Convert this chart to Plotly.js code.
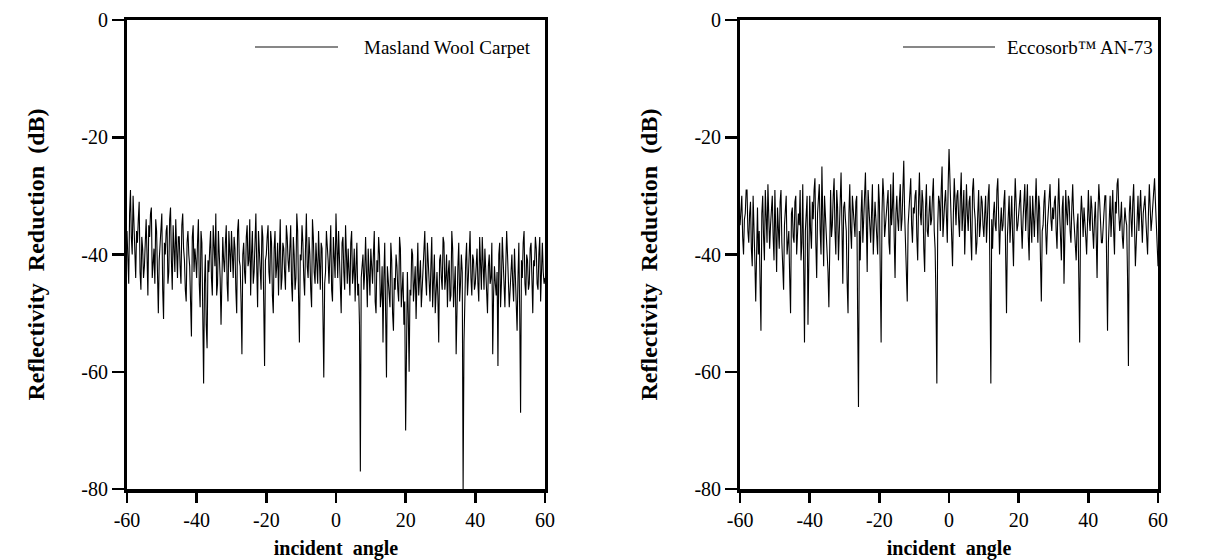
<!DOCTYPE html>
<html>
<head>
<meta charset="utf-8">
<script src="https://cdn.plot.ly/plotly-3.0.1.min.js"></script>
<style>html,body{margin:0;padding:0;background:#fff;}#chart{width:1214px;height:560px;}</style>
</head>
<body>
<div id="chart"></div>
<script>
// angle grid: -60 to 60 in 0.25 degree steps (main samples on 0.5 grid, mid samples in between)
const angleStart = -60, angleStep = 0.25;

// samples at -60, -59.5, ..., 60
const maslandWool = [
  -36,-45,-29,-40,-35,-44,-38,-31,-46,-39,
  -42,-34,-47,-37,-32,-41,-45,-36,-50,-38,
  -33,-51,-40,-35,-43,-32,-46,-38,-34,-44,
  -37,-45,-33,-41,-48,-36,-42,-54,-35,-39,
  -44,-34,-49,-38,-62,-40,-56,-43,-36,-47,
  -39,-33,-45,-40,-52,-37,-43,-35,-48,-41,
  -36,-44,-39,-50,-34,-42,-57,-38,-45,-35,
  -41,-47,-36,-43,-33,-49,-39,-46,-37,-59,
  -40,-35,-45,-38,-50,-36,-42,-47,-34,-44,
  -39,-46,-37,-43,-35,-48,-40,-44,-36,-55,
  -41,-38,-47,-33,-44,-40,-49,-37,-45,-42,
  -36,-46,-39,-61,-43,-38,-45,-35,-48,-41,
  -33,-44,-40,-50,-37,-46,-42,-39,-47,-36,
  -43,-48,-38,-45,-77,-41,-46,-37,-49,-42,
  -39,-45,-36,-50,-43,-40,-47,-55,-38,-61,
  -44,-49,-41,-53,-46,-42,-48,-39,-45,-52,
  -70,-43,-60,-47,-40,-45,-51,-38,-44,-49,
  -42,-36,-47,-41,-48,-37,-45,-50,-43,-55,
  -40,-46,-38,-44,-49,-41,-47,-39,-45,-57,
  -42,-48,-40,-80,-46,-38,-44,-36,-47,-41,
  -45,-39,-48,-42,-37,-46,-43,-50,-40,-44,
  -57,-42,-47,-59,-38,-45,-41,-49,-36,-44,
  -46,-40,-48,-43,-53,-38,-67,-44,-36,-47,
  -41,-45,-38,-50,-42,-39,-46,-37,-44,-43,
  -44
];
// samples at -59.75, -59.25, ..., 59.75
const maslandWoolMid = [
  -41,-33,-37,-30,-42,-36,-34,-43,-37,-44,
  -38,-40,-35,-33,-44,-39,-34,-47,-41,-35,
  -46,-38,-36,-45,-34,-41,-35,-43,-40,-37,
  -42,-35,-39,-46,-38,-40,-48,-37,-43,-41,
  -38,-45,-36,-50,-45,-52,-41,-39,-44,-35,
  -42,-47,-36,-44,-39,-41,-38,-45,-36,-43,
  -40,-37,-46,-36,-41,-48,-40,-43,-37,-42,
  -34,-40,-45,-38,-42,-36,-44,-35,-48,-41,
  -37,-43,-36,-47,-39,-44,-38,-40,-46,-38,
  -43,-35,-41,-39,-45,-37,-46,-33,-47,-40,
  -35,-44,-39,-42,-37,-46,-34,-43,-38,-45,
  -42,-38,-50,-45,-36,-41,-39,-46,-37,-44,
  -40,-36,-47,-38,-43,-35,-45,-42,-38,-45,
  -39,-42,-47,-52,-44,-40,-43,-46,-39,-47,
  -43,-40,-48,-41,-37,-49,-42,-44,-50,-42,
  -47,-38,-50,-44,-40,-46,-37,-49,-43,-48,
  -55,-50,-46,-39,-48,-42,-44,-47,-41,-45,
  -39,-44,-38,-46,-42,-49,-40,-44,-47,-41,
  -44,-37,-46,-40,-43,-48,-36,-49,-42,-45,
  -38,-45,-43,-55,-41,-47,-39,-44,-40,-46,
  -42,-45,-37,-46,-41,-39,-48,-42,-45,-38,
  -47,-45,-43,-40,-49,-37,-46,-42,-40,-49,
  -42,-45,-39,-48,-44,-50,-41,-38,-45,-40,
  -46,-39,-44,-41,-37,-45,-40,-48,-38,-45
];

const eccosorb = [
  -35,-30,-40,-33,-29,-38,-31,-42,-34,-48,
  -32,-36,-53,-30,-41,-34,-28,-39,-33,-37,
  -29,-43,-35,-31,-38,-46,-33,-40,-36,-50,
  -32,-38,-30,-35,-35,-41,-28,-55,-33,-52,
  -30,-39,-34,-27,-44,-31,-36,-25,-42,-33,
  -38,-49,-29,-35,-27,-40,-32,-37,-26,-45,
  -31,-36,-50,-28,-39,-33,-37,-30,-66,-41,
  -29,-35,-26,-43,-32,-38,-28,-36,-34,-40,
  -31,-55,-27,-37,-33,-29,-40,-35,-26,-44,
  -30,-36,-28,-34,-24,-39,-48,-32,-27,-38,
  -33,-29,-41,-26,-35,-31,-43,-28,-37,-30,
  -34,-27,-39,-62,-30,-36,-25,-33,-29,-38,
  -22,-31,-42,-27,-35,-29,-37,-26,-33,-40,
  -28,-36,-30,-41,-27,-34,-38,-29,-35,-31,
  -37,-30,-33,-28,-62,-39,-31,-36,-27,-40,
  -32,-35,-29,-50,-34,-38,-30,-42,-27,-36,
  -33,-29,-39,-31,-36,-28,-41,-34,-30,-37,
  -27,-38,-32,-48,-35,-29,-40,-33,-28,-36,
  -34,-30,-39,-27,-37,-32,-45,-29,-35,-31,
  -38,-28,-36,-41,-33,-55,-30,-37,-34,-40,
  -29,-36,-32,-39,-31,-44,-28,-35,-38,-33,
  -30,-53,-34,-37,-29,-40,-33,-27,-36,-31,
  -39,-32,-35,-59,-30,-37,-28,-42,-33,-36,
  -29,-38,-31,-34,-40,-28,-36,-32,-27,-35,
  -42
];
const eccosorbMid = [
  -31,-37,-34,-29,-36,-33,-39,-30,-41,-36,
  -40,-45,-33,-37,-29,-38,-32,-35,-30,-41,
  -36,-32,-39,-29,-42,-35,-30,-38,-44,-33,
  -37,-31,-40,-33,-29,-38,-45,-36,-30,-34,
  -36,-31,-29,-38,-33,-28,-40,-34,-30,-37,
  -43,-33,-37,-30,-36,-29,-41,-31,-35,-32,
  -34,-45,-33,-36,-30,-35,-31,-50,-36,-33,
  -38,-30,-36,-29,-35,-33,-40,-31,-37,-28,
  -43,-33,-30,-35,-31,-38,-28,-32,-37,-33,
  -34,-31,-36,-29,-33,-44,-35,-30,-35,-32,
  -30,-37,-31,-33,-29,-39,-32,-36,-33,-35,
  -30,-36,-48,-35,-31,-29,-37,-31,-35,-28,
  -27,-38,-33,-31,-30,-34,-30,-36,-29,-34,
  -33,-31,-37,-29,-32,-40,-33,-37,-30,-35,
  -33,-38,-30,-45,-34,-33,-35,-29,-34,-35,
  -36,-31,-40,-37,-30,-34,-37,-33,-31,-35,
  -30,-35,-34,-28,-33,-37,-30,-38,-33,-32,
  -33,-30,-41,-36,-31,-36,-35,-30,-34,-32,
  -31,-36,-32,-33,-41,-30,-36,-33,-30,-36,
  -32,-33,-39,-35,-44,-34,-33,-32,-37,-33,
  -34,-30,-36,-34,-37,-33,-31,-38,-35,-30,
  -42,-38,-30,-33,-36,-31,-28,-33,-34,-37,
  -35,-34,-44,-33,-34,-31,-35,-38,-30,-33,
  -34,-33,-30,-37,-33,-32,-34,-29,-31,-40
];

const xTickVals = [-60,-40,-20,0,20,40,60];
const xTickText = ['-60','-40','-20','0','20','40','60'];
const yTickVals = [0,-20,-40,-60,-80];
const yTickText = ['0','-20','-40','-60','-80'];
const seriesNames = ['Masland Wool Carpet', 'Eccosorb\u2122 AN-73'];
const xTitle = 'incident\u00a0\u00a0angle';
const yTitle = 'Reflectivity\u00a0\u00a0Reduction\u00a0\u00a0(dB)\u00a0\u00a0\u00a0\u00a0';

function merge(main, mid) {
  const out = [];
  for (let i = 0; i < main.length; i++) {
    out.push(main[i]);
    if (i < mid.length) out.push(mid[i]);
  }
  return out;
}
const leftY = merge(maslandWool, maslandWoolMid);
const rightY = merge(eccosorb, eccosorbMid);
const angles = leftY.map((_, i) => angleStart + i * angleStep);

const font = 'Liberation Serif, Times New Roman, serif';

const traces = [
  {x: angles, y: leftY, type: 'scatter', mode: 'lines', name: seriesNames[0],
   line: {color: '#000', width: 1.1}, xaxis: 'x', yaxis: 'y', showlegend: false},
  {x: angles, y: rightY, type: 'scatter', mode: 'lines', name: seriesNames[1],
   line: {color: '#000', width: 1.1}, xaxis: 'x2', yaxis: 'y2', showlegend: false}
];

function xax(domain, anchor) {
  return {domain: domain, anchor: anchor, range: [-60, 60], tickvals: xTickVals, ticktext: xTickText,
    ticks: 'outside', ticklen: 10, tickwidth: 2.5, tickcolor: '#000',
    showline: true, linewidth: 3.5, linecolor: '#000', mirror: true,
    showgrid: false, zeroline: false,
    tickfont: {family: font, size: 20, color: '#000'},
    title: {text: xTitle, font: {family: font, size: 20, color: '#000', weight: 'bold'}, standoff: 16}};
}
function yax(domain, anchor) {
  return {domain: domain, anchor: anchor, range: [-80, 0], tickvals: yTickVals, ticktext: yTickText,
    ticks: 'outside', ticklen: 12, tickwidth: 2.5, tickcolor: '#000',
    showline: true, linewidth: 3, linecolor: '#000', mirror: true,
    showgrid: false, zeroline: false,
    tickfont: {family: font, size: 20, color: '#000'},
    title: {text: yTitle, font: {family: font, size: 24, color: '#000', weight: 'bold'}, standoff: 30}};
}

const legFont = {family: font, size: 19, color: '#000'};
const legY = (489 - 47) / 469;

const layout = {
  width: 1214, height: 560,
  margin: {l: 0, r: 0, t: 20, b: 71},
  paper_bgcolor: '#fff', plot_bgcolor: '#fff',
  showlegend: false,
  xaxis: xax([0.1046, 0.4489], 'y'),
  yaxis: yax([0, 1], 'x'),
  xaxis2: xax([0.6096, 0.9539], 'y2'),
  yaxis2: yax([0, 1], 'x2'),
  shapes: [
    {type: 'line', xref: 'paper', yref: 'paper', x0: 255/1214, x1: 338/1214, y0: legY, y1: legY,
     line: {color: '#111', width: 1.2}},
    {type: 'line', xref: 'paper', yref: 'paper', x0: 903/1214, x1: 995/1214, y0: legY, y1: legY,
     line: {color: '#111', width: 1.2}}
  ],
  annotations: [
    {text: seriesNames[0], xref: 'paper', yref: 'paper', x: 362/1214, y: legY,
     xanchor: 'left', yanchor: 'middle', showarrow: false, font: legFont},
    {text: seriesNames[1], xref: 'paper', yref: 'paper', x: 1005/1214, y: legY,
     xanchor: 'left', yanchor: 'middle', showarrow: false, font: legFont}
  ]
};

Plotly.newPlot('chart', traces, layout, {displayModeBar: false, staticPlot: true});
</script>
</body>
</html>
